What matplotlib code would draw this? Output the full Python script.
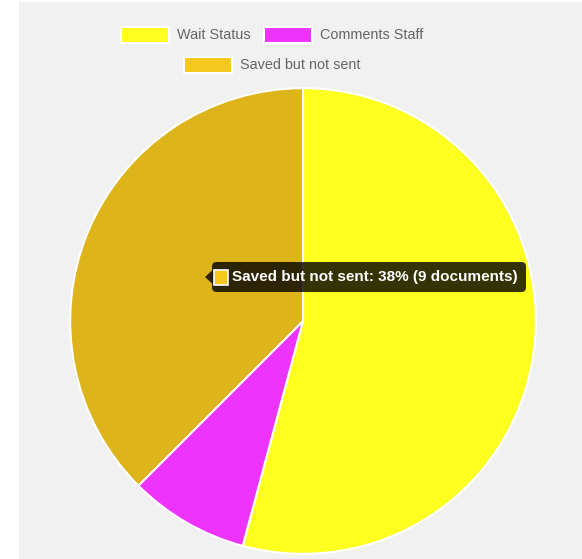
import matplotlib.pyplot as plt
from matplotlib.patches import Rectangle, FancyBboxPatch, Polygon

plt.rcParams['font.family'] = ['Liberation Sans', 'DejaVu Sans']

# document counts per status
labels = ['Wait Status', 'Comments Staff', 'Saved but not sent']
counts = [13, 2, 9]
colors = ['#ffff1f', '#ee33ff', '#f5c81e']
slice_colors = ['#ffff1f', '#ee33ff', '#ddb51b']  # hovered slice is drawn darker
hovered = 2

W, H = 582, 559
fig = plt.figure(figsize=(W / 100, H / 100), dpi=100, facecolor='white')


def px(x, y):
    # pixel position (top-left origin) -> figure fraction
    return x / W, 1 - y / H


# light gray canvas
fig.patches.append(Rectangle((19 / W, 0), 1 - 19 / W, 1 - 2 / H, transform=fig.transFigure,
                             facecolor='#f1f1f1', edgecolor='none', zorder=-1))

# pie
cx, cy, r = 303, 321, 234
ax = fig.add_axes([(cx - r) / W, (H - cy - r) / H, 2 * r / W, 2 * r / H])
ax.pie(counts, colors=slice_colors, startangle=90, counterclock=False, radius=1,
       wedgeprops=dict(edgecolor='white', linewidth=1.5))
ax.set_xlim(-1.005, 1.005)
ax.set_ylim(-1.005, 1.005)
ax.set_aspect('equal')
ax.axis('off')

# legend, two centred rows
rows = [[0, 1], [2]]
row_y = [35, 65]
legend_cx = 272
box_w, box_h, gap_t, gap_i = 48, 16, 8, 13
for row, yc in zip(rows, row_y):
    widths = []
    for i in row:
        t = fig.text(0, 0, labels[i], fontsize=10.4)
        fig.canvas.draw()
        widths.append(t.get_window_extent().width)
        t.remove()
    total = sum(box_w + gap_t + w for w in widths) + gap_i * (len(row) - 1)
    x = legend_cx - total / 2
    for i, w in zip(row, widths):
        x0, y0 = px(x, yc + box_h / 2)
        fig.patches.append(Rectangle((x0, y0), box_w / W, box_h / H, transform=fig.transFigure,
                                     facecolor=colors[i], edgecolor='white', linewidth=1.5, zorder=2))
        fig.text(*px(x + box_w + gap_t, yc), labels[i], fontsize=10.4, color='#666666',
                 va='center', ha='left')
        x += box_w + gap_t + w + gap_i

# tooltip for the hovered slice
share = round(100 * counts[hovered] / sum(counts))
tip = f'{labels[hovered]}: {share}% ({counts[hovered]} documents)'
bx0, by0, bx1, by1 = 212, 262, 526, 292
fig.patches.append(FancyBboxPatch(px(bx0, by1), (bx1 - bx0) / W, (by1 - by0) / H,
                                  boxstyle='round,pad=0,rounding_size=0.008',
                                  transform=fig.transFigure, facecolor=(0, 0, 0, 0.8),
                                  edgecolor='none', zorder=5))
fig.patches.append(Polygon([px(205, 277), px(212.5, 270), px(212.5, 284)], closed=True,
                           transform=fig.transFigure, facecolor=(0, 0, 0, 0.8),
                           edgecolor='none', zorder=5))
fig.patches.append(Rectangle(px(214, 285), 14 / W, 15 / H, transform=fig.transFigure,
                             facecolor=colors[hovered], edgecolor='white', linewidth=1.2, zorder=6))
fig.text(*px(232, 277.5), tip, fontsize=11.0, fontweight='bold', color='white',
         va='center', ha='left', zorder=7)

fig.savefig('out.png', dpi=100, facecolor=fig.get_facecolor())
